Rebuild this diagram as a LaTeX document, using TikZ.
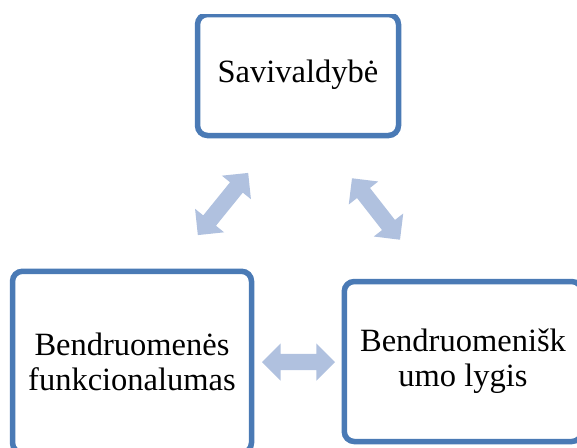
\documentclass[tikz,border=0pt]{standalone}
\usepackage{fontspec}
\setmainfont{Liberation Serif}
\usepackage{tikz}
\usetikzlibrary{shapes.arrows}
\definecolor{frame blue}{RGB}{74,122,181}
\definecolor{arrow blue}{RGB}{176,193,223}

\begin{document}
\begin{tikzpicture}[x=1pt, y=-1pt,
		box/.style={draw=frame blue, line width=5.5pt, rounded corners=10pt, fill=white,
			align=center, font=\fontsize{32.5}{35}\selectfont},
		twoway/.style={double arrow, fill=arrow blue, inner sep=8pt,
			double arrow head extend=10.5pt, minimum width=37pt}]
			\useasboundingbox (0, 0) rectangle (577, 447);
			\begin{scope}
				\clip (0, 14) rectangle (577, 447);
				% the three boxes
				\node[box, minimum width=201, minimum height=121] (sav) at (298, 75) {Savivaldybė};
				\node[box, minimum width=239, minimum height=181.5] (fun) at (132, 362) {Bendruomenės\\funkcionalumas};
				\node[box, minimum width=237.5, minimum height=160] (lyg) at (463, 361.5) {Bendruomenišk\\umo lygis};
				% arrows between them
				\node[twoway, minimum height=80, rotate=51] (sav-fun) at (223, 204) {};
				\node[twoway, minimum height=78, rotate=-52] (sav-lyg) at (376, 209) {};
				\node[twoway, minimum height=73] (fun-lyg) at (298.5, 362) {};
			\end{scope}
		\end{tikzpicture}
\end{document}
